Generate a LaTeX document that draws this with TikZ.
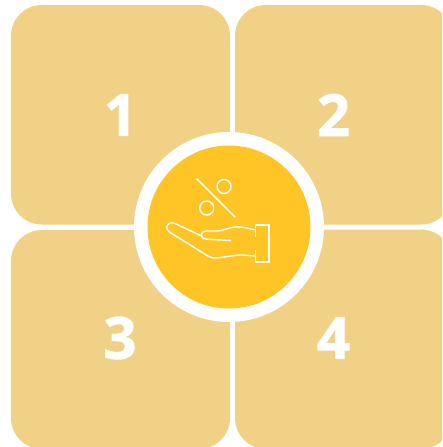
\documentclass[tikz,border=0pt]{standalone}
\usepackage{fontspec}
\setmainfont{Open Sans}
\newfontfamily\digitfont[BoldFeatures={FakeBold=1.5}]{Open Sans}
\definecolor{tile}{HTML}{F0D186}
\definecolor{hub}{HTML}{FFC425}
\tikzset{
  tile/.style={fill=tile,draw=none,rounded corners=31pt},
  digit/.style={text=white,inner sep=0pt,font=\fontsize{58}{58}\digitfont\bfseries},
  icon/.style={draw=white,line width=1.45pt,line join=round,fill=none}
}
\begin{document}
\begin{tikzpicture}[x=1pt,y=-1pt]
\useasboundingbox (0,0) rectangle (442,447);
\clip (0,0) rectangle (442,447);
\fill[white] (0,0) rectangle (442,447);
\path[tile] (11,5) rectangle (230,224.5);
\path[tile] (235,5) rectangle (452,224.5);
\path[tile] (11,230) rectangle (230,449);
\path[tile] (235,229.5) rectangle (452,449);
\node[digit] (n1) at (120.5,115) {1};
\node[digit] (n2) at (333.5,115) {2};
\node[digit] (n3) at (120,338) {3};
\node[digit] (n4) at (333.5,338) {4};
\fill[white] (229,227) circle (95);
\fill[hub] (229,227) circle (81.5);
% percent sign
\draw[icon] (196.5,178.5) -- (235,217);
\draw[icon] (224,186.5) circle (7);
\draw[icon] (206.7,208) circle (7);
% hand
\draw[icon] (255.5,237) -- (255.5,225) -- (269,225) -- (269,262) -- (255.5,262) -- (255.5,250);
\draw[icon] (255.5,230) .. controls (245,227.5) and (240,226.5) .. (235,227)
  .. controls (228,227.5) and (224,231) .. (216,231)
  -- (206,231) .. controls (202,231) and (201,234) .. (201.5,236)
  .. controls (202,238.5) and (204,239) .. (207,239.2) -- (231,240.5);
\draw[icon] (201.5,236) -- (175,223.5)
  .. controls (171,221.5) and (167,224) .. (166.8,227)
  .. controls (166.6,229.5) and (168,231) .. (171,233)
  -- (203,253) .. controls (208,256) and (210,258) .. (214,258)
  .. controls (222,258) and (232,255) .. (242,255) -- (255.5,256);
\end{tikzpicture}
\end{document}
